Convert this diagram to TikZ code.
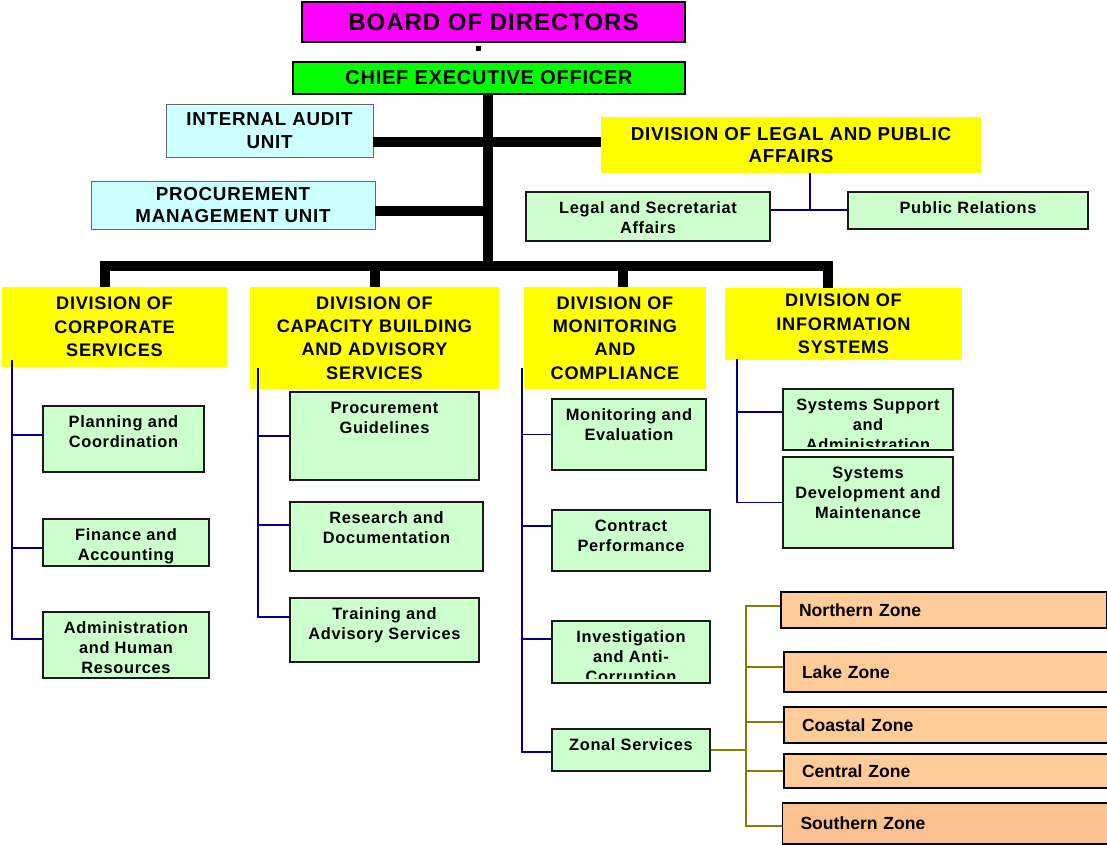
\documentclass[tikz,border=0pt]{standalone}
\usepackage{fontspec}
\setmainfont{Liberation Sans}[LetterSpace=4]
\newfontfamily\zonefont{Liberation Sans}
\newcommand{\pu}{0.03cm}
\definecolor{boardmag}{RGB}{255,0,255}
\definecolor{ceogreen}{RGB}{0,255,0}
\definecolor{unitcyan}{RGB}{204,255,255}
\definecolor{divyellow}{RGB}{255,255,0}
\definecolor{subgreen}{RGB}{204,255,204}
\definecolor{zonepeach}{RGB}{255,204,153}
\definecolor{zonedark}{RGB}{250,192,143}
\definecolor{linkblue}{RGB}{0,0,140}
\definecolor{linkolive}{RGB}{128,128,0}
\tikzset{
  top/.style={draw=black, line width=1.5pt, inner sep=1pt, font=\bfseries\fontsize{20.5}{24}\selectfont},
  unit/.style={draw=black!60, line width=0.8pt, fill=unitcyan, align=center, inner sep=1pt, font=\bfseries\fontsize{16}{19.5}\selectfont},
  division/.style={fill=divyellow, align=center, inner sep=0pt, font=\bfseries\fontsize{15.5}{20}\selectfont},
  sub/.style={draw=black!90, line width=1.5pt, fill=subgreen, inner sep=0pt},
  subtext/.style={anchor=north, align=center, inner xsep=2pt, inner ysep=9pt, font=\bfseries\fontsize{14}{17}\selectfont},
  zone/.style={draw=black, line width=1.5pt, fill=zonepeach, align=left, text width=8.7cm, inner xsep=0.54cm, inner ysep=0pt, font=\zonefont\bfseries\fontsize{15}{18}\selectfont},
  bus/.style={line width=9pt},
  link/.style={draw=linkblue, line width=1.4pt},
  zonelink/.style={draw=linkolive, line width=1.4pt},
}
\begin{document}
\begin{tikzpicture}[x=\pu, y=-\pu]
\useasboundingbox (0,0) rectangle (1107,845);

\node[top, fill=boardmag, minimum width={383*\pu}, minimum height={40*\pu}] (board) at (493.5,22) {BOARD OF DIRECTORS};
\node[fill=black, inner sep=0pt, minimum size={5*\pu}] (dot) at (478,49) {};
\node[top, fill=ceogreen, minimum width={392*\pu}, minimum height={32*\pu}, font=\bfseries\fontsize{17}{20}\selectfont] (ceo) at (489,78) {CHIEF EXECUTIVE OFFICER};

\node[unit, minimum width={207*\pu}, minimum height={53*\pu}] (audit) at (269.5,130.5) {INTERNAL AUDIT\\UNIT};
\node[unit, minimum width={284*\pu}, minimum height={48*\pu}] (pmu) at (233,205) {PROCUREMENT\\MANAGEMENT UNIT};
\node[division, minimum width={380*\pu}, minimum height={56*\pu}, font=\bfseries\fontsize{16}{19.5}\selectfont] (legal) at (791,145) {DIVISION OF LEGAL AND PUBLIC\\AFFAIRS};

\node[sub, minimum width={244*\pu}, minimum height={49*\pu}] (lsa) at (648,216.5) {};
\node[subtext] (lsa-t) at (lsa.north) {Legal and Secretariat\\Affairs};
\node[sub, minimum width={240*\pu}, minimum height={37*\pu}] (pr) at (968,210.5) {};
\node[subtext] (pr-t) at (pr.north) {Public Relations};

\node[division, minimum width={225*\pu}, minimum height={80*\pu}] (corp) at (114.5,327) {DIVISION OF\\CORPORATE\\SERVICES};
\node[division, minimum width={249*\pu}, minimum height={102*\pu}] (cab) at (374.5,338) {DIVISION OF\\CAPACITY BUILDING\\AND ADVISORY\\SERVICES};
\node[division, minimum width={182*\pu}, minimum height={102*\pu}] (mac) at (615,338) {DIVISION OF\\MONITORING\\AND\\COMPLIANCE};
\node[division, minimum width={237*\pu}, minimum height={72*\pu}] (dis) at (843.5,324) {DIVISION OF\\INFORMATION\\SYSTEMS};

\node[sub, minimum width={161*\pu}, minimum height={66*\pu}] (pc) at (123.5,439) {};
\node[subtext] (pc-t) at (pc.north) {Planning and\\Coordination};
\node[sub, minimum width={166*\pu}, minimum height={47*\pu}] (fa) at (126,542.5) {};
\node[subtext] (fa-t) at (fa.north) {Finance and\\Accounting};
\node[sub, minimum width={166*\pu}, minimum height={66*\pu}] (ahr) at (126,645) {};
\node[subtext] (ahr-t) at (ahr.north) {Administration\\and Human\\Resources};

\node[sub, minimum width={189*\pu}, minimum height={88*\pu}] (pg) at (384.5,436) {};
\node[subtext] (pg-t) at (pg.north) {Procurement\\Guidelines};
\node[sub, minimum width={193*\pu}, minimum height={69*\pu}] (rd) at (386.5,536.5) {};
\node[subtext] (rd-t) at (rd.north) {Research and\\Documentation};
\node[sub, minimum width={189*\pu}, minimum height={64*\pu}] (tas) at (384.5,630) {};
\node[subtext] (tas-t) at (tas.north) {Training and\\Advisory Services};

\node[sub, minimum width={154*\pu}, minimum height={71*\pu}] (me) at (629,434.5) {};
\node[subtext] (me-t) at (me.north) {Monitoring and\\Evaluation};
\node[sub, minimum width={158*\pu}, minimum height={61*\pu}] (cp) at (631,540.5) {};
\node[subtext] (cp-t) at (cp.north) {Contract\\Performance};
\node[sub, minimum width={158*\pu}, minimum height={62*\pu}] (ia) at (631,652) {};
\begin{scope}
  \clip ([shift={(2,-5)}]ia.south west) rectangle ([shift={(-2,2)}]ia.north east);
  \node[subtext] (ia-t) at (ia.north) {Investigation\\and Anti-\\Corruption};
\end{scope}
\node[sub, minimum width={158*\pu}, minimum height={42*\pu}] (zs) at (631,750) {};
\node[subtext] (zs-t) at (zs.north) {Zonal Services};

\node[sub, minimum width={170*\pu}, minimum height={61*\pu}] (ssa) at (868,419.5) {};
\begin{scope}
  \clip ([shift={(2,-4)}]ssa.south west) rectangle ([shift={(-2,2)}]ssa.north east);
  \node[subtext] (ssa-t) at (ssa.north) {Systems Support\\and\\Administration};
\end{scope}
\node[sub, minimum width={170*\pu}, minimum height={91*\pu}] (sdm) at (868,502.5) {};
\node[subtext] (sdm-t) at (sdm.north) {Systems\\Development and\\Maintenance};

\node[zone, minimum height={36*\pu}] (nz) at (944,610) {Northern Zone};
\node[zone, minimum height={40*\pu}] (lz) at (947,672) {Lake Zone};
\node[zone, minimum height={36*\pu}] (cz) at (947,725) {Coastal Zone};
\node[zone, minimum height={34*\pu}] (ctz) at (947,771) {Central Zone};
\node[zone, fill=zonedark, minimum height={41*\pu}] (sz) at (945.5,823.5) {Southern Zone};

\coordinate (hub) at (488,266);
\coordinate (t1) at (488,142);
\coordinate (t2) at (488,211);
\coordinate (d1) at (105,266);
\coordinate (d2) at (375,266);
\coordinate (d3) at (623,266);
\coordinate (d4) at (828,266);
\draw[bus] (ceo.south -| hub) -- (hub);
\draw[bus, line cap=rect] (d1) -- (d4);
\foreach \d/\n in {d1/corp, d2/cab, d3/mac, d4/dis}
  \draw[bus] (\d) -- (\d |- \n.north);
\draw[bus] (audit.east |- t1) -- (legal.west |- t1);
\draw[bus] (pmu.east |- t2) -- (t2);

\coordinate (lj) at (810,210);
\draw[link] (legal.south -| lj) -- (lj);
\draw[link] (lsa.east |- lj) -- (pr.west |- lj);

\coordinate (cs1) at (12,360);
\coordinate (cs2) at (258,368);
\coordinate (cs3) at (522,368);
\coordinate (cs4) at (737,359);
\draw[link] (cs1) |- ([yshift={4*\pu}]pc.west);
\draw[link] (cs1) |- ([yshift={-5.5*\pu}]fa.west);
\draw[link] (cs1) |- ([yshift={6*\pu}]ahr.west);
\draw[link] (cs2) |- (pg.west);
\draw[link] (cs2) |- ([yshift={11.5*\pu}]rd.west);
\draw[link] (cs2) |- ([yshift={13*\pu}]tas.west);
\draw[link] (cs3) |- (me.west);
\draw[link] (cs3) |- ([yshift={14.5*\pu}]cp.west);
\draw[link] (cs3) |- ([yshift={13*\pu}]ia.west);
\draw[link] (cs3) |- ([yshift={-2*\pu}]zs.west);
\draw[link] (cs4) |- ([yshift={7.5*\pu}]ssa.west);
\draw[link] (cs4) |- (sdm.west);

\coordinate (zj) at (746,750);
\draw[zonelink] (zs.east) -- (zj);
\draw[zonelink] (zj) |- ([yshift={4*\pu}]nz.west);
\draw[zonelink] (zj) |- ([yshift={5*\pu}]lz.west);
\draw[zonelink] (zj) |- ([yshift={3*\pu}]cz.west);
\draw[zonelink] (zj) |- (ctz.west);
\draw[zonelink] (zj) |- ([yshift={-2.5*\pu}]sz.west);
\end{tikzpicture}
\end{document}
